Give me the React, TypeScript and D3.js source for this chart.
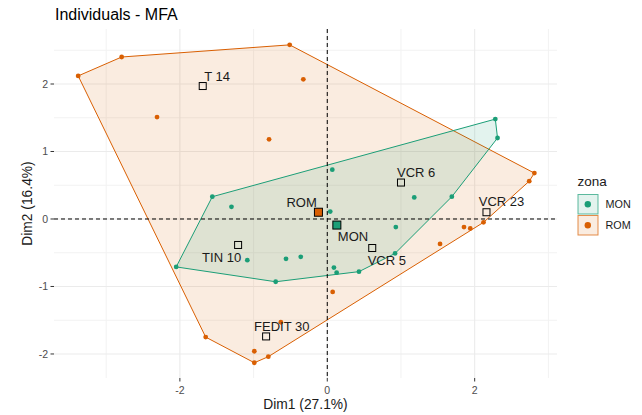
import React, { useRef, useEffect } from 'react';
import * as d3 from 'd3';

// active individuals, coordinates on Dim1 / Dim2
const romPoints: [number, number][] = [
  [-3.38, 2.12], [-2.79, 2.40], [-0.51, 2.58], [-0.325, 2.07], [-2.31, 1.51], [-0.79, 1.18],
  [2.81, 0.68], [2.74, 0.56], [2.12, -0.05], [1.94, -0.14], [1.855, -0.12], [1.53, -0.37],
  [0.073, -1.08], [-0.63, -1.53], [-0.80, -2.04], [-0.99, -2.13], [-0.99, -1.96], [-1.65, -1.75],
];
const monPoints: [number, number][] = [
  [-2.05, -0.71], [-1.56, 0.33], [2.28, 1.48], [2.31, 1.20], [1.69, 0.33], [0.92, -0.51],
  [0.43, -0.78], [0.127, -0.795], [0.09, -0.72], [-0.70, -0.93], [-1.30, 0.18], [0.068, 0.73],
  [1.18, 0.32], [0.04, 0.11], [0.93, -0.12], [-1.085, -0.61], [-0.56, -0.59], [-0.36, -0.56],
];

// group centroids
const groupNames = ['MON', 'ROM'];
const groupCentroids: [number, number][] = [[0.13, -0.09], [-0.12, 0.10]];

// supplementary individuals
const suppNames = ['T 14', 'VCR 6', 'VCR 23', 'VCR 5', 'TIN 10', 'FEDIT 30'];
const suppCoords: [number, number][] = [
  [-1.69, 1.97], [1.0, 0.54], [2.16, 0.10], [0.61, -0.43], [-1.21, -0.385], [-0.83, -1.74],
];

const xMajor = [-2, 0, 2];
const xMinor = [-3, -1, 1, 3];
const yMajor = [-2, -1, 0, 1, 2];
const yMinor = [-1.5, -0.5, 0.5, 1.5, 2.5];

// label placement (pixels, relative to the point), like ggrepel put them
const labelOffset: Record<string, [number, number]> = {
  'T 14': [1.5, -5], 'VCR 6': [-4, -6], 'VCR 23': [-7.7, -6.5], 'VCR 5': [-4.6, 16.5],
  'TIN 10': [-36, 16.7], 'FEDIT 30': [-12, -5], 'ROM': [-32, -5.3], 'MON': [1, 16.4],
};

const colors: Record<string, string> = { MON: '#1B9E77', ROM: '#D95F02' };
const FONT = '"Liberation Sans", Arial, sans-serif';

const App = () => {
  const ref = useRef<SVGSVGElement | null>(null);

  useEffect(() => {
    if (!ref.current) return;
    const svg = d3.select(ref.current);
    svg.selectAll('*').remove();

    const left = 54, right = 557, top = 29, bottom = 378;
    const x = d3.scaleLinear().domain([-3.708, 3.117]).range([left, right]);
    const y = d3.scaleLinear().domain([-2.356, 2.815]).range([bottom, top]);

    // grid
    const grid = svg.append('g');
    grid.selectAll('.vmin').data(xMinor).enter().append('line')
      .attr('x1', d => x(d)).attr('x2', d => x(d)).attr('y1', top).attr('y2', bottom)
      .attr('stroke', '#F2F2F2').attr('stroke-width', 1);
    grid.selectAll('.hmin').data(yMinor).enter().append('line')
      .attr('x1', left).attr('x2', right).attr('y1', d => y(d)).attr('y2', d => y(d))
      .attr('stroke', '#F2F2F2').attr('stroke-width', 1);
    grid.selectAll('.vmaj').data(xMajor).enter().append('line')
      .attr('x1', d => x(d)).attr('x2', d => x(d)).attr('y1', top).attr('y2', bottom)
      .attr('stroke', '#EBEBEB').attr('stroke-width', 1.1);
    grid.selectAll('.hmaj').data(yMajor).enter().append('line')
      .attr('x1', left).attr('x2', right).attr('y1', d => y(d)).attr('y2', d => y(d))
      .attr('stroke', '#EBEBEB').attr('stroke-width', 1.1);

    // convex hulls
    const groups: [string, [number, number][]][] = [['ROM', romPoints], ['MON', monPoints]];
    groups.forEach(([name, pts]) => {
      const hull = d3.polygonHull(pts.map(p => [x(p[0]), y(p[1])] as [number, number]));
      if (!hull) return;
      svg.append('path')
        .attr('d', 'M' + hull.map(p => p.join(',')).join('L') + 'Z')
        .attr('fill', colors[name]).attr('fill-opacity', 0.12)
        .attr('stroke', colors[name]).attr('stroke-width', 1);
    });

    // reference lines
    svg.append('line').attr('x1', left).attr('x2', right).attr('y1', y(0)).attr('y2', y(0))
      .attr('stroke', '#000').attr('stroke-dasharray', '4,3');
    svg.append('line').attr('x1', x(0)).attr('x2', x(0)).attr('y1', top).attr('y2', bottom)
      .attr('stroke', '#000').attr('stroke-dasharray', '4,3');

    // active points
    groups.forEach(([name, pts]) => {
      svg.append('g').selectAll('circle').data(pts).enter().append('circle')
        .attr('cx', d => x(d[0])).attr('cy', d => y(d[1])).attr('r', 2.4)
        .attr('fill', colors[name]);
    });

    // supplementary individuals
    svg.append('g').selectAll('rect').data(suppCoords).enter().append('rect')
      .attr('x', d => x(d[0]) - 3.5).attr('y', d => y(d[1]) - 3.5)
      .attr('width', 7).attr('height', 7)
      .attr('fill', 'none').attr('stroke', '#000').attr('stroke-width', 1);

    // centroids
    svg.append('g').selectAll('rect').data(groupCentroids).enter().append('rect')
      .attr('x', d => x(d[0]) - 4).attr('y', d => y(d[1]) - 4)
      .attr('width', 8).attr('height', 8)
      .attr('fill', (d, i) => colors[groupNames[i]]).attr('stroke', '#000').attr('stroke-width', 1);

    // labels
    const labels = suppNames.map((n, i) => ({ name: n, p: suppCoords[i] }))
      .concat(groupNames.map((n, i) => ({ name: n, p: groupCentroids[i] })));
    svg.append('g').selectAll('text').data(labels).enter().append('text')
      .attr('x', d => x(d.p[0]) + labelOffset[d.name][0])
      .attr('y', d => y(d.p[1]) + labelOffset[d.name][1])
      .attr('font-family', FONT).attr('font-size', 13).attr('fill', '#1a1a1a')
      .text(d => d.name);

    // axes ticks and labels
    const axes = svg.append('g').attr('font-family', FONT).attr('font-size', 10.5).attr('fill', '#4D4D4D');
    axes.selectAll('.xt').data(xMajor).enter().append('line')
      .attr('x1', d => x(d)).attr('x2', d => x(d)).attr('y1', bottom).attr('y2', bottom + 3.5)
      .attr('stroke', '#333');
    axes.selectAll('.xl').data(xMajor).enter().append('text')
      .attr('x', d => x(d)).attr('y', 394).attr('text-anchor', 'middle').text(d => d);
    axes.selectAll('.yt').data(yMajor).enter().append('line')
      .attr('x1', left - 3.5).attr('x2', left).attr('y1', d => y(d)).attr('y2', d => y(d))
      .attr('stroke', '#333');
    axes.selectAll('.yl').data(yMajor).enter().append('text')
      .attr('x', left - 6).attr('y', d => y(d)).attr('dy', '0.35em')
      .attr('text-anchor', 'end').text(d => d);

    svg.append('text').attr('x', (left + right) / 2).attr('y', 409)
      .attr('text-anchor', 'middle').attr('font-family', FONT).attr('font-size', 13.8)
      .attr('fill', '#1a1a1a').text('Dim1 (27.1%)');
    svg.append('text').attr('transform', `translate(32,${(top + bottom) / 2}) rotate(-90)`)
      .attr('text-anchor', 'middle').attr('font-family', FONT).attr('font-size', 13.8)
      .attr('fill', '#1a1a1a').text('Dim2 (16.4%)');

    svg.append('text').attr('x', 55).attr('y', 20)
      .attr('font-family', FONT).attr('font-size', 16).attr('fill', '#000')
      .text('Individuals - MFA');

    // legend
    const legend = svg.append('g').attr('font-family', FONT);
    legend.append('text').attr('x', 577.5).attr('y', 186).attr('font-size', 13.5)
      .attr('fill', '#1a1a1a').text('zona');
    const keys = legend.selectAll('.key').data(groupNames).enter().append('g')
      .attr('transform', (d, i) => `translate(577.5,${194 + i * 21})`);
    keys.append('rect').attr('x', 0.5).attr('y', 0.5).attr('width', 20).attr('height', 19.5)
      .attr('fill', d => colors[d]).attr('fill-opacity', 0.12)
      .attr('stroke', d => colors[d]).attr('stroke-opacity', 0.7).attr('stroke-width', 1);
    keys.append('circle').attr('cx', 10.3).attr('cy', 10.2).attr('r', 3.2).attr('fill', d => colors[d]);
    keys.append('text').attr('x', 28).attr('y', 10.2).attr('dy', '0.35em')
      .attr('font-size', 10.8).attr('fill', '#1a1a1a').text(d => d);
  }, []);

  return <svg ref={ref} width={642} height={415} style={{ position: 'absolute', left: 0, top: 0, background: '#fff' }} />;
};

export default App;
